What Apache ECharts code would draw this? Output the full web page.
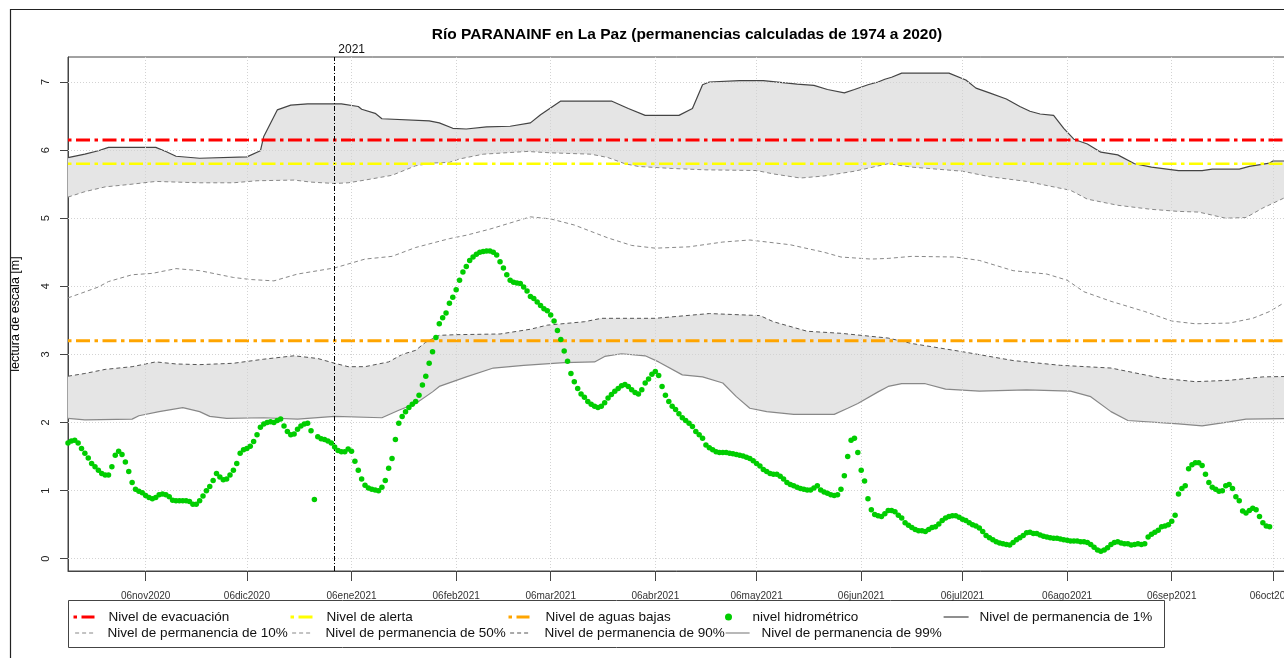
<!DOCTYPE html>
<html><head><meta charset="utf-8">
<script src="https://cdn.jsdelivr.net/npm/echarts@6/dist/echarts.min.js"></script>
<style>html,body{margin:0;padding:0;background:#fff}#c{width:1284px;height:658px}</style>
</head><body><div id="c"></div>
<script>
// ---------------- DATA ----------------
const chartTitle = 'Río PARANAINF en La Paz (permanencias calculadas de 1974 a 2020)';
const yAxisName = 'lectura de escala [m]';
const xStart = '2020-10-14';
const xEnd = '2021-10-14';
const yMin = -0.18, yMax = 7.367;
const yTicks = [0, 1, 2, 3, 4, 5, 6, 7];
const tickDates = ['2020-11-06','2020-12-06','2021-01-06','2021-02-06','2021-03-06','2021-04-06','2021-05-06','2021-06-06','2021-07-06','2021-08-06','2021-09-06','2021-10-06'];
const tickLabels = ['06nov2020','06dic2020','06ene2021','06feb2021','06mar2021','06abr2021','06may2021','06jun2021','06jul2021','06ago2021','06sep2021','06oct2021'];
const yearMarkDate = '2021-01-01';
const yearMarkLabel = '2021';

const levelEvacuacion = 6.15;
const levelAlerta = 5.8;
const levelAguasBajas = 3.2;

const names = {
  evac: 'Nivel de evacuación', alerta: 'Nivel de alerta', bajas: 'Nivel de aguas bajas',
  obs: 'nivel hidrométrico', p1: 'Nivel de permanencia de 1%', p10: 'Nivel de permanencia de 10%',
  p50: 'Nivel de permanencia de 50%', p90: 'Nivel de permanencia de 90%', p99: 'Nivel de permanencia de 99%'
};

// daily readings starting at obsStart
const obsStart = '2020-10-14';
const obsValues = [
1.70,1.73,1.74,1.70,1.62,1.55,1.48,1.40,1.35,1.30,
1.25,1.23,1.23,1.35,1.52,1.58,1.53,1.42,1.28,1.12,
1.02,0.99,0.97,0.93,0.90,0.88,0.90,0.94,0.95,0.94,
0.91,0.86,0.85,0.85,0.85,0.85,0.84,0.80,0.80,0.85,
0.92,1.00,1.06,1.15,1.25,1.20,1.16,1.17,1.23,1.30,
1.40,1.55,1.60,1.62,1.65,1.72,1.82,1.93,1.98,2.00,
2.01,2.00,2.03,2.05,1.95,1.87,1.82,1.83,1.90,1.95,
1.98,1.99,1.88,0.87,1.79,1.76,1.75,1.73,1.70,1.64,
1.59,1.57,1.57,1.61,1.58,1.43,1.30,1.17,1.08,1.04,
1.02,1.01,1.00,1.05,1.15,1.33,1.47,1.75,1.99,2.09,
2.16,2.22,2.27,2.31,2.40,2.55,2.68,2.87,3.04,3.25,
3.45,3.54,3.61,3.75,3.84,3.95,4.09,4.21,4.29,4.38,
4.43,4.47,4.50,4.51,4.52,4.52,4.50,4.46,4.36,4.27,
4.17,4.09,4.06,4.05,4.04,3.99,3.93,3.85,3.82,3.77,
3.72,3.67,3.64,3.58,3.49,3.35,3.22,3.05,2.90,2.72,
2.60,2.50,2.42,2.37,2.31,2.27,2.24,2.22,2.24,2.29,
2.36,2.41,2.46,2.50,2.54,2.56,2.53,2.48,2.44,2.42,
2.48,2.58,2.64,2.71,2.75,2.69,2.53,2.40,2.31,2.24,
2.19,2.13,2.07,2.03,1.99,1.94,1.87,1.82,1.77,1.67,
1.63,1.60,1.57,1.56,1.56,1.56,1.55,1.54,1.53,1.52,
1.51,1.49,1.47,1.44,1.40,1.36,1.31,1.28,1.25,1.24,
1.24,1.21,1.17,1.12,1.09,1.07,1.05,1.03,1.02,1.01,
1.01,1.04,1.07,1.01,0.98,0.96,0.94,0.93,0.94,1.02,
1.22,1.50,1.74,1.77,1.56,1.30,1.14,0.88,0.72,0.65,
0.63,0.62,0.66,0.71,0.71,0.69,0.64,0.60,0.53,0.49,
0.46,0.43,0.41,0.41,0.40,0.43,0.46,0.47,0.51,0.56,
0.60,0.62,0.63,0.63,0.61,0.58,0.56,0.53,0.50,0.48,
0.45,0.40,0.34,0.31,0.28,0.25,0.23,0.22,0.21,0.20,
0.24,0.28,0.31,0.34,0.38,0.39,0.37,0.37,0.35,0.33,
0.32,0.31,0.30,0.30,0.29,0.28,0.27,0.26,0.26,0.26,
0.25,0.25,0.24,0.21,0.17,0.13,0.11,0.13,0.16,0.21,
0.24,0.25,0.23,0.22,0.22,0.20,0.21,0.22,0.21,0.22,
0.32,0.36,0.39,0.42,0.47,0.48,0.50,0.55,0.64,0.95,
1.03,1.07,1.32,1.38,1.41,1.41,1.37,1.24,1.12,1.05,
1.02,0.99,1.00,1.07,1.09,1.03,0.91,0.85,0.70,0.67,
0.71,0.74,0.72,0.62,0.53,0.48,0.47
];

const perm1 = [['2020-10-14',5.89],['2020-10-19',5.94],['2020-10-23',5.99],['2020-10-26',6.04],['2020-11-09',6.04],['2020-11-12',5.98],['2020-11-15',5.91],['2020-11-22',5.88],['2020-12-06',5.90],['2020-12-10',5.99],['2020-12-11',6.2],['2020-12-15',6.59],['2020-12-19',6.66],['2020-12-24',6.68],['2021-01-03',6.68],['2021-01-08',6.64],['2021-01-09',6.60],['2021-01-13',6.54],['2021-01-15',6.46],['2021-01-29',6.43],['2021-02-01',6.40],['2021-02-05',6.32],['2021-02-09',6.31],['2021-02-15',6.34],['2021-02-22',6.35],['2021-02-28',6.40],['2021-03-03',6.52],['2021-03-09',6.72],['2021-03-24',6.72],['2021-03-29',6.61],['2021-04-03',6.51],['2021-04-13',6.51],['2021-04-17',6.61],['2021-04-20',6.96],['2021-04-22',7.0],['2021-05-01',7.02],['2021-05-08',7.02],['2021-05-18',6.97],['2021-05-23',6.95],['2021-05-27',6.89],['2021-06-01',6.84],['2021-06-04',6.89],['2021-06-08',6.96],['2021-06-11',7.0],['2021-06-13',7.04],['2021-06-15',7.07],['2021-06-18',7.13],['2021-07-02',7.13],['2021-07-07',7.03],['2021-07-10',6.91],['2021-07-14',6.84],['2021-07-19',6.75],['2021-07-23',6.64],['2021-07-26',6.57],['2021-07-29',6.53],['2021-08-02',6.51],['2021-08-05',6.32],['2021-08-08',6.16],['2021-08-12',6.09],['2021-08-16',5.97],['2021-08-21',5.93],['2021-08-26',5.80],['2021-08-31',5.75],['2021-09-08',5.70],['2021-09-15',5.70],['2021-09-18',5.72],['2021-09-26',5.72],['2021-09-29',5.76],['2021-10-05',5.81],['2021-10-06',5.84],['2021-10-14',5.84]];

const perm10 = [['2020-10-14',5.31],['2020-10-19',5.39],['2020-10-25',5.46],['2020-11-02',5.50],['2020-11-09',5.54],['2020-11-22',5.52],['2020-12-02',5.52],['2020-12-09',5.55],['2020-12-20',5.56],['2020-12-25',5.53],['2021-01-01',5.51],['2021-01-05',5.52],['2021-01-10',5.56],['2021-01-18',5.63],['2021-01-25',5.77],['2021-01-30',5.81],['2021-02-04',5.82],['2021-02-07',5.87],['2021-02-14',5.94],['2021-02-27',5.98],['2021-03-06',5.96],['2021-03-18',5.94],['2021-03-23',5.89],['2021-03-28',5.80],['2021-04-01',5.76],['2021-04-11',5.73],['2021-04-21',5.71],['2021-05-06',5.70],['2021-05-11',5.65],['2021-05-19',5.59],['2021-05-26',5.62],['2021-06-04',5.69],['2021-06-14',5.80],['2021-06-21',5.75],['2021-07-06',5.69],['2021-07-14',5.61],['2021-07-25',5.54],['2021-08-07',5.41],['2021-08-12',5.28],['2021-08-21',5.19],['2021-08-31',5.13],['2021-09-08',5.10],['2021-09-14',5.09],['2021-09-22',5.00],['2021-09-28',5.01],['2021-10-03',5.15],['2021-10-09',5.29],['2021-10-14',5.40]];

const perm50 = [['2020-10-14',3.83],['2020-10-18',3.90],['2020-10-23',3.99],['2020-10-26',4.07],['2020-11-02',4.17],['2020-11-08',4.19],['2020-11-15',4.26],['2020-11-22',4.23],['2020-12-02',4.13],['2020-12-07',4.10],['2020-12-14',4.08],['2020-12-21',4.18],['2021-01-01',4.27],['2021-01-10',4.40],['2021-01-18',4.44],['2021-01-25',4.57],['2021-02-04',4.70],['2021-02-09',4.75],['2021-02-16',4.84],['2021-02-28',5.02],['2021-03-06',4.99],['2021-03-13',4.90],['2021-03-23',4.71],['2021-03-30',4.60],['2021-04-06',4.56],['2021-04-16',4.58],['2021-04-26',4.65],['2021-05-04',4.68],['2021-05-16',4.61],['2021-05-26',4.50],['2021-05-31',4.43],['2021-06-09',4.40],['2021-06-14',4.41],['2021-06-21',4.44],['2021-07-04',4.43],['2021-07-11',4.38],['2021-07-21',4.23],['2021-07-31',4.18],['2021-08-06',4.09],['2021-08-11',3.92],['2021-08-19',3.78],['2021-08-29',3.63],['2021-09-06',3.49],['2021-09-13',3.45],['2021-09-23',3.46],['2021-09-30',3.53],['2021-10-05',3.63],['2021-10-09',3.75],['2021-10-14',3.85]];

const perm90 = [['2020-10-14',2.68],['2020-10-19',2.72],['2020-10-25',2.78],['2020-11-02',2.82],['2020-11-09',2.89],['2020-11-15',2.86],['2020-11-22',2.85],['2020-12-02',2.87],['2020-12-11',2.93],['2020-12-20',2.98],['2020-12-27',2.94],['2021-01-01',2.87],['2021-01-05',2.82],['2021-01-10',2.82],['2021-01-17',2.89],['2021-01-21',3.00],['2021-01-25',3.06],['2021-01-28',3.18],['2021-02-01',3.28],['2021-02-06',3.29],['2021-02-19',3.30],['2021-02-28',3.37],['2021-03-05',3.43],['2021-03-16',3.48],['2021-03-21',3.53],['2021-04-06',3.53],['2021-04-22',3.60],['2021-05-07',3.57],['2021-05-11',3.48],['2021-05-21',3.34],['2021-05-31',3.31],['2021-06-14',3.24],['2021-06-21',3.16],['2021-07-06',3.04],['2021-07-21',2.91],['2021-08-04',2.84],['2021-08-19',2.80],['2021-09-03',2.65],['2021-09-13',2.60],['2021-09-23',2.62],['2021-10-03',2.67],['2021-10-14',2.68]];

const perm99 = [['2020-10-14',2.06],['2020-10-19',2.04],['2020-11-02',2.05],['2020-11-04',2.10],['2020-11-10',2.16],['2020-11-17',2.22],['2020-11-22',2.16],['2020-11-25',2.09],['2020-11-30',2.06],['2020-12-11',2.07],['2020-12-21',2.05],['2021-01-01',2.09],['2021-01-15',2.07],['2021-01-20',2.18],['2021-01-25',2.28],['2021-01-30',2.45],['2021-02-01',2.53],['2021-02-09',2.67],['2021-02-17',2.80],['2021-02-26',2.84],['2021-03-10',2.88],['2021-03-19',2.89],['2021-03-22',2.97],['2021-03-27',3.01],['2021-04-03',2.98],['2021-04-07',2.89],['2021-04-14',2.70],['2021-04-20',2.67],['2021-04-26',2.58],['2021-04-30',2.38],['2021-05-04',2.21],['2021-05-09',2.16],['2021-05-17',2.12],['2021-05-29',2.12],['2021-06-02',2.21],['2021-06-05',2.28],['2021-06-11',2.45],['2021-06-14',2.53],['2021-06-18',2.57],['2021-06-25',2.57],['2021-07-01',2.49],['2021-07-11',2.46],['2021-07-25',2.48],['2021-08-07',2.46],['2021-08-13',2.38],['2021-08-19',2.16],['2021-08-24',2.03],['2021-09-08',1.98],['2021-09-15',1.95],['2021-09-23',2.01],['2021-09-28',2.05],['2021-10-14',2.06]];

// ---------------- BUILD ----------------
const T = s => echarts.time.parse(s).getTime();
const toTs = arr => arr.map(p => [T(p[0]), p[1]]);
const tsStart = T(xStart), tsEnd = T(xEnd);
const tickTs = tickDates.map(T);
const s0 = echarts.time.parse(obsStart);
const obsData = obsValues.map((v, i) => [new Date(s0.getFullYear(), s0.getMonth(), s0.getDate() + i).getTime(), v]);

const P1 = toTs(perm1), P10 = toTs(perm10), P50 = toTs(perm50), P90 = toTs(perm90), P99 = toTs(perm99);
const DASHDOT = [14, 4.5, 3.5, 4.5];

function band(upper, lower) {
  return {
    type: 'custom', silent: true, z: 1, clip: true,
    data: [upper[0]],
    renderItem: function (params, api) {
      if (params.dataIndex !== 0) return null;
      const pts = upper.map(p => api.coord(p)).concat(lower.slice().reverse().map(p => api.coord(p)));
      return { type: 'polygon', shape: { points: pts }, style: { fill: '#E5E5E5', stroke: null } };
    }
  };
}
function permLine(name, data, color, type, width) {
  return { type: 'line', name, data, symbol: 'none', z: 3, silent: true,
    lineStyle: { color, type, width }, itemStyle: { color } };
}
function levelLine(name, value, color, width) {
  return { type: 'line', name, data: [[tsStart, value], [tsEnd, value]], symbol: 'none', z: 4, silent: true,
    lineStyle: { color, width, type: DASHDOT, dashOffset: 18.5 }, itemStyle: { color } };
}

const legendText = { fontSize: 13.5, color: '#111', lineHeight: 14, fontFamily: 'Liberation Sans, Arial, sans-serif' };
function leg(name, left, top, itemWidth, pad, lineWidth, isDot) {
  const o = { orient: 'horizontal', padding: 0, selectedMode: false, itemHeight: 7,
    data: [name], left, top, itemWidth,
    textStyle: Object.assign({}, legendText, { padding: [0, 0, 0, pad] }) };
  if (!isDot) { o.itemStyle = { opacity: 0 }; o.lineStyle = { width: lineWidth }; }
  return o;
}

const option = {
  animation: false,
  backgroundColor: '#fff',
  textStyle: { fontFamily: 'Liberation Sans, Arial, sans-serif' },
  title: { text: chartTitle, left: 682, top: 22, textAlign: 'center',
    textStyle: { fontSize: 15.5, fontWeight: 'bold', color: '#000' } },
  grid: { left: 68, top: 57, width: 1232, height: 514, outerBoundsMode: 'none', containLabel: false,
    show: true, borderColor: '#444', borderWidth: 1, backgroundColor: 'transparent' },
  xAxis: {
    type: 'value', min: tsStart, max: tsEnd,
    axisLine: { show: true, onZero: false, lineStyle: { color: '#444', width: 1 } },
    axisTick: { show: true, length: 10, customValues: tickTs, lineStyle: { color: '#444' } },
    axisLabel: { customValues: tickTs, margin: 20, fontSize: 10, color: '#333',
      formatter: v => { const i = tickTs.indexOf(v); return i >= 0 ? tickLabels[i] : ''; } },
    splitLine: { show: false }
  },
  yAxis: {
    type: 'value', min: yMin, max: yMax,
    name: yAxisName, nameLocation: 'middle', nameGap: 46, nameRotate: 90,
    nameTextStyle: { fontSize: 12.5, color: '#000' },
    axisLine: { show: true, lineStyle: { color: '#444', width: 1 } },
    axisTick: { show: true, length: 8, customValues: yTicks, lineStyle: { color: '#444' } },
    axisLabel: { customValues: yTicks, rotate: 90, margin: 17, fontSize: 11, color: '#222' },
    splitLine: { show: false }
  },
  legend: [
    leg(names.evac, 72, 610, 21, 9, 3),
    leg(names.alerta, 289, 610, 22, 9, 3),
    leg(names.bajas, 507, 610, 21, 11, 3),
    leg(names.obs, 725, 610, 24, 7, 0, true),
    leg(names.p1, 943, 610, 25, 6, 1.2),
    leg(names.p10, 72, 626, 21, 9, 1.2),
    leg(names.p50, 289, 626, 22, 9, 1.2),
    leg(names.p90, 507, 626, 21, 11, 1.2),
    leg(names.p99, 725, 626, 24, 7, 1.2)
  ],
  graphic: [
    { type: 'rect', shape: { x: 10.5, y: 9.5, width: 1400, height: 800 }, style: { fill: null, stroke: '#222', lineWidth: 1.2 }, silent: true, z: 100 },
    { type: 'rect', shape: { x: 68.5, y: 600.5, width: 1096, height: 47 }, style: { fill: null, stroke: '#444', lineWidth: 1 }, silent: true }
  ],
  series: [
    band(P1, P10),
    band(P90, P99),
    { type: 'line', name: 'grid', data: [], z: 2, silent: true,
      markLine: { silent: true, symbol: ['none', 'none'], animation: false, label: { show: false },
        lineStyle: { color: '#D3D3D3', type: [1, 2], width: 1 },
        data: yTicks.map(v => ({ yAxis: v })).concat(tickTs.map(t => ({ xAxis: t }))) } },
    permLine(names.p1, P1, '#444', 'solid', 1.2),
    permLine(names.p10, P10, '#888', [4, 3], 1),
    permLine(names.p50, P50, '#888', [4, 3], 1),
    permLine(names.p90, P90, '#555', [4, 3], 1),
    permLine(names.p99, P99, '#888', 'solid', 1.2),
    levelLine(names.evac, levelEvacuacion, '#FF0000', 3),
    levelLine(names.alerta, levelAlerta, '#FFFF00', 2.5),
    levelLine(names.bajas, levelAguasBajas, '#FFA500', 3),
    { type: 'line', name: 'year', data: [], z: 4, silent: true,
      markLine: { silent: true, symbol: ['none', 'none'], animation: false,
        lineStyle: { color: '#000', type: [5, 2, 1, 2], width: 1 },
        label: { show: true, position: 'end', formatter: yearMarkLabel, fontSize: 12, color: '#111', distance: 1, offset: [17, 0] },
        data: [{ xAxis: T(yearMarkDate) }] } },
    { type: 'scatter', name: names.obs, data: obsData, symbol: 'circle', symbolSize: 5.5, z: 5, silent: true,
      itemStyle: { color: '#00CD00', opacity: 1 } }
  ]
};

const chart = echarts.init(document.getElementById('c'), null, { renderer: 'canvas' });
chart.setOption(option);
</script>
</body></html>
